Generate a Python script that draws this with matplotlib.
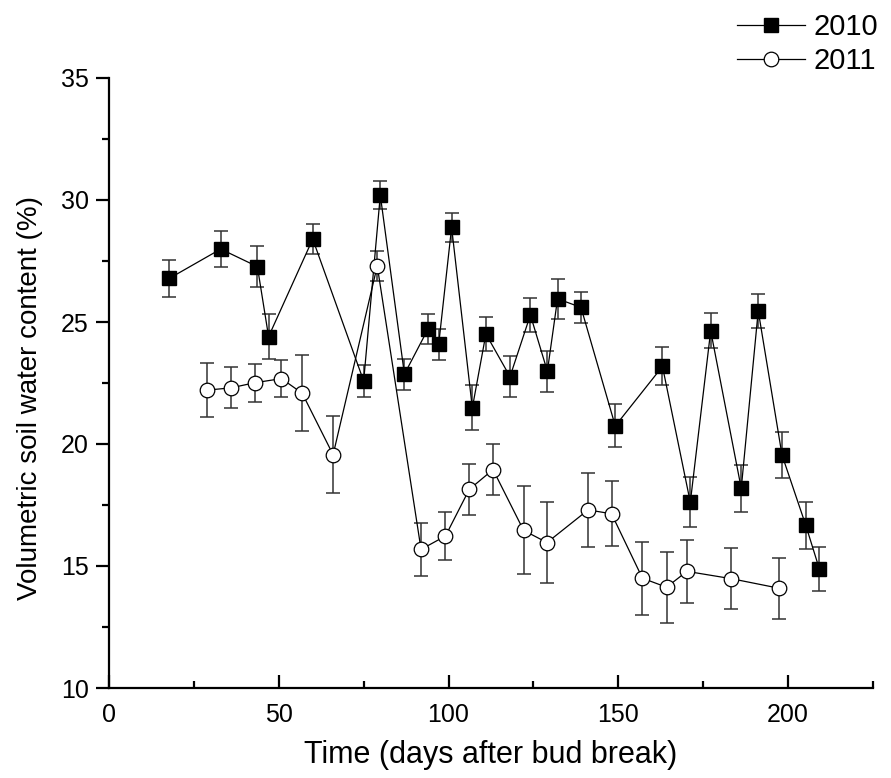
import matplotlib
matplotlib.use("Agg")
import matplotlib.pyplot as plt
import numpy as np

plt.rcParams['font.family'] = ['Liberation Sans', 'DejaVu Sans']

# 2010 season
days_2010 = [17.8, 32.9, 43.7, 47.0, 60.0, 75.0, 79.9, 87.0, 93.9, 97.1, 100.9, 107.0, 111.0, 118.1,
             124.1, 129.1, 132.1, 139.0, 149.1, 163.0, 171.2, 177.2, 186.2, 191.2, 198.2, 205.2, 209.2]
swc_2010 = [26.79, 27.99, 27.27, 24.40, 28.40, 22.58, 30.20, 22.86, 24.70, 24.09, 28.88, 21.48, 24.51, 22.76,
            25.29, 22.98, 25.95, 25.60, 20.74, 23.18, 17.61, 24.64, 18.18, 25.46, 19.55, 16.67, 14.88]
err_2010 = [0.75, 0.73, 0.83, 0.92, 0.61, 0.64, 0.57, 0.63, 0.61, 0.63, 0.60, 0.92, 0.71, 0.83,
            0.68, 0.85, 0.83, 0.65, 0.88, 0.78, 1.03, 0.71, 0.95, 0.70, 0.94, 0.96, 0.90]

# 2011 season
days_2011 = [29.0, 35.9, 42.9, 50.8, 56.9, 66.0, 79.0, 91.9, 99.1, 106.1, 113.1, 122.1, 129.0, 141.1,
             148.0, 157.1, 164.2, 170.2, 183.3, 197.3]
swc_2011 = [22.21, 22.30, 22.51, 22.68, 22.08, 19.56, 27.30, 15.68, 16.23, 18.14, 18.95, 16.46, 15.96, 17.30,
            17.14, 14.50, 14.13, 14.78, 14.48, 14.09]
err_2011 = [1.09, 0.84, 0.77, 0.77, 1.56, 1.58, 0.62, 1.10, 1.00, 1.06, 1.06, 1.80, 1.66, 1.51,
            1.34, 1.50, 1.46, 1.30, 1.26, 1.25]

fig = plt.figure(figsize=(8.91, 7.78), dpi=100)
ax = fig.add_axes([109/891, 1 - 688/778, (873 - 109)/891, (688 - 78)/778])

ax.errorbar(days_2010, swc_2010, yerr=err_2010, fmt='none', ecolor='#333333', elinewidth=1.1,
            capsize=5, capthick=1.1, zorder=2)
ax.errorbar(days_2011, swc_2011, yerr=err_2011, fmt='none', ecolor='#333333', elinewidth=1.1,
            capsize=5, capthick=1.1, zorder=2)
ax.plot(days_2010, swc_2010, '-s', color='black', lw=0.9, ms=9.5, mfc='black', mec='black',
        label='2010', zorder=3)
ax.plot(days_2011, swc_2011, '-o', color='black', lw=0.9, ms=10.5, mfc='white', mec='black',
        mew=0.9, label='2011', zorder=3)

ax.set_xlim(0, 225)
ax.set_ylim(10, 35)
ax.spines['top'].set_visible(False)
ax.spines['right'].set_visible(False)
ax.spines['left'].set_linewidth(1.6)
ax.spines['bottom'].set_linewidth(1.6)

ax.set_xticks([0, 50, 100, 150, 200])
ax.set_xticks([25, 75, 125, 175, 225], minor=True)
ax.set_yticks([10, 15, 20, 25, 30, 35])
ax.set_yticks([12.5, 17.5, 22.5, 27.5, 32.5], minor=True)
ax.tick_params(axis='x', which='major', direction='in', length=9.5, width=1.6, labelsize=18, pad=11)
ax.tick_params(axis='x', which='minor', direction='in', length=5, width=1.6)
ax.tick_params(axis='y', which='major', direction='out', length=9.5, width=1.6, labelsize=18, pad=5)
ax.tick_params(axis='y', which='minor', direction='out', length=5, width=1.6)

ax.set_xlabel('Time (days after bud break)', fontsize=22, labelpad=9)
ax.set_ylabel('Volumetric soil water content (%)', fontsize=20)
ax.yaxis.set_label_coords(-0.087, 0.475)

ax.legend(loc='upper right', bbox_to_anchor=(1.0, 1.0), bbox_transform=fig.transFigure,
          frameon=False, fontsize=21, handlelength=2.3, handletextpad=0.3, labelspacing=0.2,
          borderaxespad=0.05)

fig.savefig('out.png', dpi=100)
